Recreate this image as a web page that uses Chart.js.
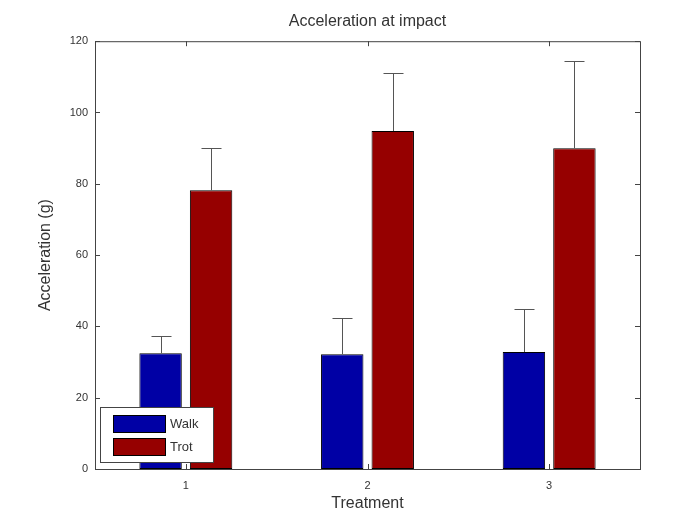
<!DOCTYPE html>
<html>
<head>
<meta charset="utf-8">
<script src="https://cdn.jsdelivr.net/npm/chart.js@4.4.1/dist/chart.umd.min.js"></script>
<style>
  html, body { margin: 0; padding: 0; background: #fff; }
  #wrap { width: 687px; height: 513px; }
</style>
</head>
<body>
<div id="wrap"><canvas id="accelChart"></canvas></div>
<script>
const treatments = ["1", "2", "3"];
const walkMeans = [32.5, 32.2, 32.8];
const walkErrors = [4.8, 10.1, 12.1];
const trotMeans = [78.2, 94.8, 90.0];
const trotErrors = [11.8, 16.2, 24.4];
const yTicks = [0, 20, 40, 60, 80, 100, 120];

const fontFamily = "'Liberation Sans', Arial, sans-serif";

// centre the title over the plot box rather than the whole canvas
const titleCenter = {
  id: "titleCenter",
  afterLayout(chart) {
    if (chart.titleBlock) {
      chart.titleBlock.left = chart.chartArea.left;
      chart.titleBlock.right = chart.chartArea.right;
    }
  }
};

// box round the plot with inward ticks, like a matlab axes
const boxPlugin = {
  id: "box",
  afterDraw(chart) {
    const { ctx, chartArea: a, scales } = chart;
    ctx.save();
    ctx.strokeStyle = "#444";
    ctx.lineWidth = 1;
    ctx.strokeRect(a.left + 0.5, a.top + 0.5, a.right - a.left, a.bottom - a.top);
    ctx.beginPath();
    yTicks.forEach(v => {
      const y = Math.round(scales.y.getPixelForValue(v)) + 0.5;
      ctx.moveTo(a.left, y); ctx.lineTo(a.left + 5, y);
      ctx.moveTo(a.right, y); ctx.lineTo(a.right - 5, y);
    });
    treatments.forEach((t, i) => {
      const x = Math.round(scales.x.getPixelForValue(i)) + 0.5;
      ctx.moveTo(x, a.bottom); ctx.lineTo(x, a.bottom - 5);
      ctx.moveTo(x, a.top); ctx.lineTo(x, a.top + 5);
    });
    ctx.stroke();
    ctx.restore();
  }
};

// upper error bars
const errorPlugin = {
  id: "errors",
  afterDatasetsDraw(chart) {
    const { ctx, scales } = chart;
    const errs = [walkErrors, trotErrors];
    ctx.save();
    ctx.strokeStyle = "#555";
    ctx.lineWidth = 1;
    chart.data.datasets.forEach((ds, di) => {
      chart.getDatasetMeta(di).data.forEach((bar, i) => {
        const x = Math.round(bar.x) + 0.5;
        const yTop = Math.round(scales.y.getPixelForValue(ds.data[i] + errs[di][i])) + 0.5;
        ctx.beginPath();
        ctx.moveTo(x, bar.y);
        ctx.lineTo(x, yTop);
        ctx.moveTo(x - 10, yTop);
        ctx.lineTo(x + 10, yTop);
        ctx.stroke();
      });
    });
    ctx.restore();
  }
};

// legend box inside the plot, lower left
const legendPlugin = {
  id: "insideLegend",
  afterDraw(chart) {
    const { ctx, chartArea: a } = chart;
    const left = a.left + 5, top = 407, w = 113, h = 55;
    ctx.save();
    ctx.fillStyle = "#fff";
    ctx.fillRect(left, top, w, h);
    ctx.strokeStyle = "#444";
    ctx.lineWidth = 1;
    ctx.strokeRect(left + 0.5, top + 0.5, w, h);
    ctx.font = "13px " + fontFamily;
    ctx.textBaseline = "middle";
    chart.data.datasets.forEach((ds, i) => {
      const sy = top + 8 + i * 23;
      ctx.fillStyle = ds.backgroundColor;
      ctx.fillRect(left + 13, sy, 52, 17);
      ctx.strokeStyle = "#000";
      ctx.strokeRect(left + 13.5, sy + 0.5, 52, 17);
      ctx.fillStyle = "#333";
      ctx.fillText(ds.label, left + 70, sy + 9);
    });
    ctx.restore();
  }
};

new Chart(document.getElementById("accelChart").getContext("2d"), {
  type: "bar",
  data: {
    labels: treatments,
    datasets: [
      {
        label: "Walk",
        data: walkMeans,
        backgroundColor: "rgb(0,0,165)",
        borderColor: "#000",
        borderWidth: 1,
        borderSkipped: false
      },
      {
        label: "Trot",
        data: trotMeans,
        backgroundColor: "rgb(150,0,0)",
        borderColor: "#000",
        borderWidth: 1,
        borderSkipped: false
      }
    ]
  },
  options: {
    responsive: true,
    maintainAspectRatio: false,
    animation: false,
    layout: { padding: { left: 36, right: 47, top: 0, bottom: 0 } },
    categoryPercentage: 0.556,
    barPercentage: 0.84,
    plugins: {
      legend: { display: false },
      tooltip: { enabled: false },
      title: {
        display: true,
        text: "Acceleration at impact",
        color: "#333",
        font: { family: fontFamily, size: 16, weight: "normal" },
        padding: { top: 12, bottom: 10 }
      }
    },
    scales: {
      x: {
        grid: { display: false, drawTicks: false },
        border: { display: false },
        ticks: { color: "#333", padding: 10, font: { family: fontFamily, size: 11 } },
        title: {
          display: true,
          text: "Treatment",
          color: "#333",
          font: { family: fontFamily, size: 16 },
          padding: { top: 0, bottom: 0 }
        },
        afterFit(scale) { scale.height = 44; }
      },
      y: {
        min: 0,
        max: 120,
        grid: { display: false, drawTicks: false },
        border: { display: false },
        ticks: { stepSize: 20, color: "#333", padding: 7, font: { family: fontFamily, size: 11 } },
        title: {
          display: true,
          text: "Acceleration (g)",
          color: "#333",
          font: { family: fontFamily, size: 16 },
          padding: { top: 0, bottom: 0 }
        },
        afterFit(scale) { scale.width = 59; }
      }
    }
  },
  plugins: [titleCenter, errorPlugin, boxPlugin, legendPlugin]
});
</script>
</body>
</html>
